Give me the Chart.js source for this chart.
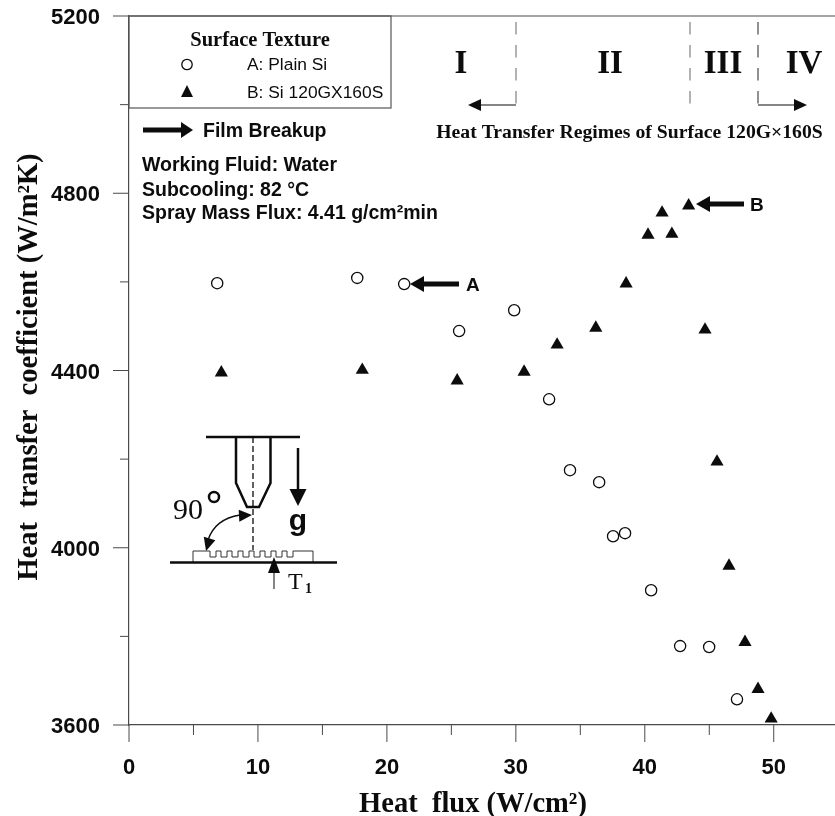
<!DOCTYPE html>
<html>
<head>
<meta charset="utf-8">
<style>
  html, body { margin: 0; padding: 0; background: #fff; }
  canvas { display: block; }
</style>
<script src="https://cdn.jsdelivr.net/npm/chart.js@4/dist/chart.umd.min.js"></script>
</head>
<body>
<canvas id="chart" width="835" height="816"></canvas>
<script>
// values
const plainFlux = [6.84, 17.7, 21.34, 25.6, 29.87, 32.58, 34.2, 36.46, 37.54, 38.47, 40.49, 42.74, 44.99, 47.15];
const plainCoef = [4597, 4609, 4595, 4489, 4536, 4335, 4175, 4148, 4026, 4033, 3904, 3778, 3776, 3658];
const grooveFlux = [7.16, 18.09, 25.45, 30.64, 33.2, 36.2, 38.55, 40.25, 41.34, 42.1, 43.4, 44.67, 45.6, 46.53, 47.77, 48.78, 49.8];
const grooveCoef = [4395, 4401, 4377, 4397, 4458, 4496, 4596, 4706, 4756, 4708, 4772, 4492, 4194, 3959, 3787, 3681, 3614];

const xLabels = [0, 10, 20, 30, 40, 50];
const yLabels = [3600, 4000, 4400, 4800, 5200];

const INK = '#0c0c0c';
const AXIS = '#4a4a4a';
const SERIF = '"Liberation Serif", serif';
const SANS = '"Liberation Sans", Arial, sans-serif';

const toPoints = (xs, ys) => xs.map((x, i) => ({ x, y: ys[i] }));

function text(ctx, str, x, y, font, align = 'left') {
  ctx.font = font;
  ctx.fillStyle = INK;
  ctx.textAlign = align;
  ctx.textBaseline = 'middle';
  ctx.fillText(str, x, y);
}

function line(ctx, x1, y1, x2, y2, width = 1, color = INK, dash = []) {
  ctx.save();
  ctx.beginPath();
  ctx.setLineDash(dash);
  ctx.moveTo(x1, y1);
  ctx.lineTo(x2, y2);
  ctx.lineWidth = width;
  ctx.strokeStyle = color;
  ctx.stroke();
  ctx.restore();
}

// arrow head with its tip at (x, y), pointing along dir (radians)
function head(ctx, x, y, dir, len, halfW) {
  ctx.save();
  ctx.translate(x, y);
  ctx.rotate(dir);
  ctx.beginPath();
  ctx.moveTo(0, 0);
  ctx.lineTo(-len, -halfW);
  ctx.lineTo(-len, halfW);
  ctx.closePath();
  ctx.fillStyle = INK;
  ctx.fill();
  ctx.restore();
}

function drawTicks(chart) {
  const { ctx, scales: { x, y } } = chart;
  const bottom = y.bottom, left = x.left;
  x.ticks.forEach(t => {
    const px = x.getPixelForValue(t.value);
    const major = xLabels.includes(t.value);
    line(ctx, px, bottom, px, bottom + (major ? 17 : 10), 1, AXIS);
  });
  y.ticks.forEach(t => {
    const py = y.getPixelForValue(t.value);
    const major = yLabels.includes(t.value);
    line(ctx, left - (major ? 16 : 9), py, left, py, 1, AXIS);
  });
  // top frame line
  line(ctx, left, y.top, chart.width, y.top, 1.2, AXIS);
}

function drawTitles(chart) {
  const { ctx } = chart;
  text(ctx, 'Heat  flux (W/cm²)', 473, 805, `bold 28.5px ${SERIF}`, 'center');
  ctx.save();
  ctx.translate(30, 367);
  ctx.rotate(-Math.PI / 2);
  text(ctx, 'Heat  transfer  coefficient (W/m²K)', 0, 0, `bold 28.5px ${SERIF}`, 'center');
  ctx.restore();
}

function drawLegend(chart) {
  const { ctx } = chart;
  ctx.save();
  ctx.strokeStyle = '#555';
  ctx.lineWidth = 1.2;
  ctx.strokeRect(129, 16, 262, 92);
  ctx.restore();
  text(ctx, 'Surface Texture', 260, 41, `bold 20.5px ${SERIF}`, 'center');

  ctx.beginPath();
  ctx.arc(187, 64.5, 5.2, 0, Math.PI * 2);
  ctx.lineWidth = 1.3;
  ctx.strokeStyle = INK;
  ctx.stroke();
  text(ctx, 'A: Plain Si', 247, 65, `17.4px ${SANS}`);

  ctx.beginPath();
  ctx.moveTo(187, 85);
  ctx.lineTo(193, 97);
  ctx.lineTo(181, 97);
  ctx.closePath();
  ctx.fillStyle = INK;
  ctx.fill();
  text(ctx, 'B: Si 120GX160S', 247, 93, `17.4px ${SANS}`);
}

function drawNotes(chart) {
  const { ctx } = chart;
  // film breakup key
  line(ctx, 143, 130, 182, 130, 5);
  head(ctx, 193, 130, 0, 12, 8);
  text(ctx, 'Film Breakup', 203, 132, `bold 19.5px ${SANS}`);

  text(ctx, 'Working Fluid: Water', 142, 165.5, `bold 19.5px ${SANS}`);
  text(ctx, 'Subcooling: 82 °C', 142, 190.5, `bold 19.5px ${SANS}`);
  text(ctx, 'Spray Mass Flux: 4.41 g/cm²min', 142, 213.5, `bold 19.5px ${SANS}`);

  // arrows at the film breakup points
  line(ctx, 422, 284, 459, 284, 5);
  head(ctx, 410, 284, Math.PI, 14, 8);
  text(ctx, 'A', 466, 286, `bold 19px ${SANS}`);
  line(ctx, 708, 204, 744, 204, 5);
  head(ctx, 696, 204, Math.PI, 14, 8);
  text(ctx, 'B', 750, 206, `bold 19px ${SANS}`);
}

function drawRegimes(chart) {
  const { ctx } = chart;
  const dash = [12.5, 10.5];
  line(ctx, 516, 22, 516, 105, 1, '#666', dash);
  line(ctx, 690, 22, 690, 105, 1, '#666', dash);
  line(ctx, 758, 22, 758, 105, 1, '#222', dash);

  const font = `bold 33px ${SERIF}`;
  text(ctx, 'I', 461, 64, font, 'center');
  text(ctx, 'II', 610, 64, font, 'center');
  text(ctx, 'III', 723, 64, font, 'center');
  text(ctx, 'IV', 804, 64, font, 'center');

  line(ctx, 480, 105, 516, 105);
  head(ctx, 468, 105, Math.PI, 13, 6);
  line(ctx, 758, 105, 795, 105);
  head(ctx, 807, 105, 0, 13, 6);

  text(ctx, 'Heat Transfer Regimes of Surface 120G×160S', 629.5, 133, `bold 19.7px ${SERIF}`, 'center');
}

function drawSketch(chart) {
  const { ctx } = chart;
  // nozzle
  line(ctx, 206, 437, 300, 437, 2.5);
  ctx.beginPath();
  ctx.moveTo(236, 437);
  ctx.lineTo(236, 483);
  ctx.lineTo(247, 507);
  ctx.lineTo(259, 507);
  ctx.lineTo(270.5, 483);
  ctx.lineTo(270.5, 437);
  ctx.lineWidth = 2.5;
  ctx.strokeStyle = INK;
  ctx.stroke();
  line(ctx, 253, 437, 253, 550, 1.3, INK, [6, 3]);

  // gravity
  line(ctx, 298, 448, 298, 490, 2.5);
  head(ctx, 298, 506, Math.PI / 2, 17, 8.5);
  text(ctx, 'g', 298, 522, `bold 30px ${SANS}`, 'center');

  // angle
  text(ctx, '90', 173, 511, `30px ${SERIF}`);
  ctx.beginPath();
  ctx.arc(214, 497, 5, 0, Math.PI * 2);
  ctx.lineWidth = 2.5;
  ctx.strokeStyle = INK;
  ctx.stroke();
  ctx.beginPath();
  ctx.moveTo(240, 515);
  ctx.quadraticCurveTo(215, 519, 208, 540);
  ctx.lineWidth = 1.3;
  ctx.stroke();
  head(ctx, 252, 515, -0.05, 13, 6);
  head(ctx, 206, 551, 1.85, 13, 6);

  // grooved surface
  ctx.beginPath();
  ctx.moveTo(193, 562);
  ctx.lineTo(193, 551);
  ctx.lineTo(210, 551);
  let gx = 210;
  for (let i = 0; i < 8; i++) {
    ctx.lineTo(gx, 557);
    ctx.lineTo(gx + 6, 557);
    ctx.lineTo(gx + 6, 551);
    ctx.lineTo(gx + 11, 551);
    gx += 11;
  }
  ctx.lineTo(313, 551);
  ctx.lineTo(313, 562);
  ctx.lineWidth = 1;
  ctx.strokeStyle = '#333';
  ctx.stroke();
  line(ctx, 170, 562.5, 337, 562.5, 2.5);

  // thermocouple
  line(ctx, 274, 572, 274, 589, 1);
  head(ctx, 274, 557, -Math.PI / 2, 16, 6);
  text(ctx, 'T', 288, 583, `24px ${SERIF}`);
  text(ctx, '1', 305, 589, `bold 14px ${SERIF}`);
}

const annotations = {
  id: 'annotations',
  afterDraw(chart) {
    drawTicks(chart);
    drawTitles(chart);
    drawLegend(chart);
    drawNotes(chart);
    drawRegimes(chart);
    drawSketch(chart);
  }
};

// chart.js reserves room for half a tick label at the ends, the plot here runs to the edge
const noEdgePadding = scale => {
  scale.paddingTop = 0;
  scale.paddingBottom = 0;
  scale.paddingLeft = 0;
  scale.paddingRight = 0;
};

new Chart(document.getElementById('chart'), {
  type: 'scatter',
  data: {
    datasets: [
      {
        label: 'A: Plain Si',
        data: toPoints(plainFlux, plainCoef),
        pointStyle: 'circle',
        pointRadius: 5.6,
        borderWidth: 1.3,
        borderColor: INK,
        backgroundColor: 'rgba(255,255,255,0)'
      },
      {
        label: 'B: Si 120GX160S',
        data: toPoints(grooveFlux, grooveCoef),
        pointStyle: 'triangle',
        pointRadius: 7.6,
        borderWidth: 0,
        backgroundColor: INK
      }
    ]
  },
  options: {
    responsive: false,
    animation: false,
    layout: { autoPadding: false, padding: { top: 16, left: 0, right: 0, bottom: 0 } },
    plugins: { legend: { display: false }, tooltip: { enabled: false }, title: { display: false } },
    scales: {
      x: {
        type: 'linear',
        min: 0,
        max: 54.75,
        afterFit: scale => { scale.height = 91; noEdgePadding(scale); },
        grid: { display: false, drawTicks: false },
        border: { display: true, color: AXIS, width: 1.2 },
        ticks: {
          stepSize: 5,
          includeBounds: false,
          autoSkip: false,
          maxRotation: 0,
          padding: 30,
          color: INK,
          font: { family: SANS, size: 22, weight: 'bold' },
          callback: v => (xLabels.includes(v) ? String(v) : '')
        }
      },
      y: {
        type: 'linear',
        min: 3600,
        max: 5200,
        afterFit: scale => { scale.width = 129; noEdgePadding(scale); },
        grid: { display: false, drawTicks: false },
        border: { display: true, color: AXIS, width: 1.2 },
        ticks: {
          stepSize: 200,
          autoSkip: false,
          padding: 29,
          labelOffset: 2,
          color: INK,
          font: { family: SANS, size: 22, weight: 'bold' },
          callback: v => (yLabels.includes(v) ? String(v) : '')
        }
      }
    }
  },
  plugins: [annotations]
});
</script>
</body>
</html>
